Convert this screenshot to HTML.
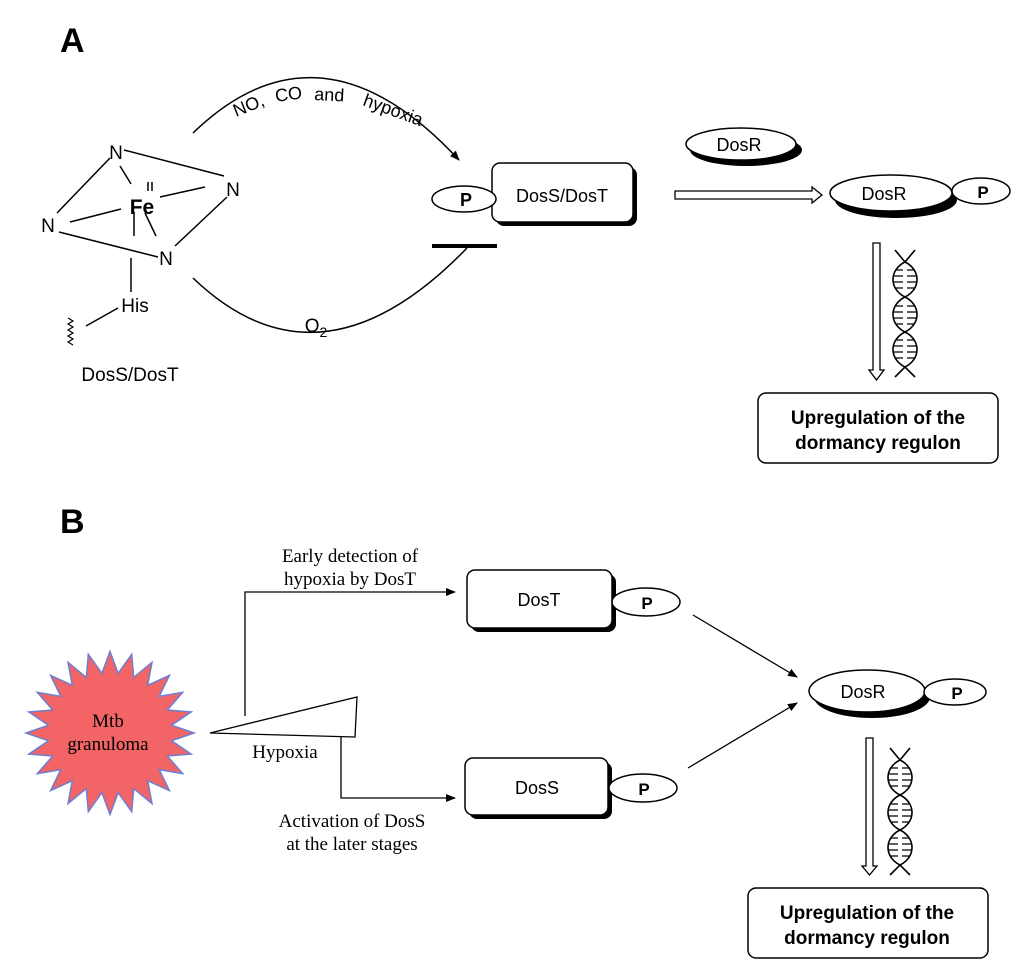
<!DOCTYPE html>
<html><head><meta charset="utf-8"><style>
html,body{margin:0;padding:0;background:#fff}
svg{display:block}
.s{font-family:"Liberation Sans",sans-serif}
.r{font-family:"Liberation Serif",serif}
</style></head><body>
<svg width="1024" height="978" viewBox="0 0 1024 978" xmlns="http://www.w3.org/2000/svg">
<defs>
<marker id="ah" markerWidth="10" markerHeight="8" refX="9" refY="4" orient="auto" markerUnits="userSpaceOnUse"><path d="M0,0 L10,4 L0,8 Z" fill="#000"/></marker>
<g id="dna" fill="none" stroke="#000" stroke-width="1.6">
<path d="M-10,0 L0,12 C-16,20 -16,39 0,47 C16,55 16,74 0,82 C-16,90 -16,109 0,117 L10,127"/>
<path d="M10,0 L0,12 C16,20 16,39 0,47 C-16,55 -16,74 0,82 C16,90 16,109 0,117 L-10,127"/>
<path d="M-9,20h7M2,20h7M-12,26h10M2,26h10M-12,32h10M2,32h10M-9,38h7M2,38h7M-9,56h7M2,56h7M-12,62h10M2,62h10M-12,68h10M2,68h10M-9,74h7M2,74h7M-9,90h7M2,90h7M-12,96h10M2,96h10M-12,102h10M2,102h10M-9,108h7M2,108h7" stroke-width="1.3"/>
</g>
</defs>

<!-- Panel A -->
<text x="60" y="52" class="s" font-size="34" font-weight="bold">A</text>
<g stroke="#000" stroke-width="1.5" fill="none">
<line x1="124" y1="150" x2="224" y2="176"/>
<line x1="110" y1="158" x2="57" y2="213"/>
<line x1="120" y1="166" x2="131" y2="184"/>
<line x1="160" y1="197" x2="205" y2="187"/>
<line x1="70" y1="222" x2="121" y2="209"/>
<line x1="227" y1="197" x2="175" y2="246"/>
<line x1="59" y1="232" x2="158" y2="257"/>
<line x1="134" y1="212" x2="134" y2="236"/>
<line x1="145" y1="213" x2="156" y2="236"/>
<line x1="131" y1="258" x2="131" y2="292"/>
<line x1="118" y1="308" x2="86" y2="326"/>
<path d="M68,318 l5,3 -5,3 5,3 -5,3 5,3 -5,3 5,3 -5,3 5,3" stroke-width="1.2"/>
<line x1="148" y1="182" x2="148" y2="191"/><line x1="152" y1="182" x2="152" y2="191"/>
<path d="M193,133 Q320,10 459,160" marker-end="url(#ah)"/>
<path d="M193,278 Q320,400 467,248"/>
</g>
<line x1="432" y1="246" x2="497" y2="246" stroke="#000" stroke-width="4"/>
<g class="s" font-size="19">
<text x="116" y="159" text-anchor="middle">N</text>
<text x="233" y="196" text-anchor="middle">N</text>
<text x="48" y="232" text-anchor="middle">N</text>
<text x="166" y="265" text-anchor="middle">N</text>
<text x="142" y="214" text-anchor="middle" font-weight="bold" font-size="21">Fe</text>
<text x="135" y="312" text-anchor="middle">His</text>
<text x="130" y="381" text-anchor="middle">DosS/DosT</text>
<text x="316" y="332" text-anchor="middle">O<tspan font-size="14" dy="5">2</tspan></text>
<text transform="translate(236,117) rotate(-22)" font-size="18">NO,</text>
<text transform="translate(276,102) rotate(-8)" font-size="18">CO</text>
<text transform="translate(314,100) rotate(3)" font-size="18">and</text>
<text transform="translate(362,105) rotate(20)" font-size="18">hypoxia</text>
</g>
<!-- P + DosS/DosT box -->
<rect x="496" y="167" width="141" height="59" rx="8" fill="#000"/>
<rect x="492" y="163" width="141" height="59" rx="8" fill="#fff" stroke="#000" stroke-width="1.5"/>
<text x="562" y="202" class="s" font-size="18" text-anchor="middle">DosS/DosT</text>
<ellipse cx="464" cy="199" rx="32" ry="13" fill="#fff" stroke="#000" stroke-width="1.5"/>
<text x="466" y="206" class="s" font-size="18" font-weight="bold" text-anchor="middle">P</text>
<!-- hollow arrow -->
<path d="M675,191 H812 V187 L822,195 L812,203 V199 H675 Z" fill="#fff" stroke="#000" stroke-width="1.3"/>
<!-- DosR top -->
<ellipse cx="746" cy="150" rx="56" ry="16" fill="#000"/>
<ellipse cx="741" cy="144" rx="55" ry="16" fill="#fff" stroke="#000" stroke-width="1.5"/>
<text x="739" y="151" class="s" font-size="18" text-anchor="middle">DosR</text>
<!-- DosR-P -->
<ellipse cx="896" cy="200" rx="61" ry="18" fill="#000"/>
<ellipse cx="891" cy="193" rx="61" ry="18" fill="#fff" stroke="#000" stroke-width="1.5"/>
<text x="884" y="200" class="s" font-size="18" text-anchor="middle">DosR</text>
<ellipse cx="981" cy="191" rx="29" ry="13" fill="#fff" stroke="#000" stroke-width="1.5"/>
<text x="983" y="198" class="s" font-size="17" font-weight="bold" text-anchor="middle">P</text>
<path d="M873,243 H880 V370 H884 L876.5,380 L869,370 H873 Z" fill="#fff" stroke="#000" stroke-width="1.3"/>
<use href="#dna" x="905" y="250"/>
<rect x="758" y="393" width="240" height="70" rx="8" fill="#fff" stroke="#000" stroke-width="1.5"/>
<text x="878" y="424" class="s" font-size="19" font-weight="bold" text-anchor="middle">Upregulation of the</text>
<text x="878" y="449" class="s" font-size="19" font-weight="bold" text-anchor="middle">dormancy regulon</text>

<!-- Panel B -->
<text x="60" y="533" class="s" font-size="34" font-weight="bold">B</text>
<polygon id="star" points="" fill="#f26465" stroke="#6d7fd0" stroke-width="1.5"/>
<script>
(function(){var p=[],cx=110,cy=733,n=24;for(var i=0;i<2*n;i++){var a=Math.PI*i/n-Math.PI/2;var r=i%2?62:84;p.push((cx+r*Math.cos(a)*1.0).toFixed(1)+","+(cy+r*Math.sin(a)*0.97).toFixed(1));}document.getElementById('star').setAttribute('points',p.join(' '));})();
</script>
<text x="108" y="727" class="r" font-size="19" text-anchor="middle">Mtb</text>
<text x="108" y="750" class="r" font-size="19" text-anchor="middle">granuloma</text>
<g stroke="#000" stroke-width="1.3" fill="none">
<polygon points="210,733 357,697 355,737"/>
<polyline points="245,716 245,592 455,592" marker-end="url(#ah)"/>
<polyline points="341,737 341,798 455,798" marker-end="url(#ah)"/>
<line x1="693" y1="615" x2="797" y2="677" marker-end="url(#ah)"/>
<line x1="688" y1="768" x2="797" y2="703" marker-end="url(#ah)"/>
</g>
<g class="r" font-size="19" text-anchor="middle">
<text x="350" y="562">Early detection of</text>
<text x="350" y="585">hypoxia by DosT</text>
<text x="285" y="758">Hypoxia</text>
<text x="352" y="827">Activation of DosS</text>
<text x="352" y="850">at the later stages</text>
</g>
<rect x="471" y="574" width="145" height="58" rx="8" fill="#000"/>
<rect x="467" y="570" width="145" height="58" rx="8" fill="#fff" stroke="#000" stroke-width="1.5"/>
<text x="539" y="606" class="s" font-size="18" text-anchor="middle">DosT</text>
<ellipse cx="646" cy="602" rx="34" ry="14" fill="#fff" stroke="#000" stroke-width="1.5"/>
<text x="647" y="609" class="s" font-size="17" font-weight="bold" text-anchor="middle">P</text>
<rect x="469" y="762" width="143" height="57" rx="8" fill="#000"/>
<rect x="465" y="758" width="143" height="57" rx="8" fill="#fff" stroke="#000" stroke-width="1.5"/>
<text x="537" y="794" class="s" font-size="18" text-anchor="middle">DosS</text>
<ellipse cx="643" cy="788" rx="34" ry="14" fill="#fff" stroke="#000" stroke-width="1.5"/>
<text x="644" y="795" class="s" font-size="17" font-weight="bold" text-anchor="middle">P</text>
<ellipse cx="872" cy="697" rx="58" ry="21" fill="#000"/>
<ellipse cx="867" cy="691" rx="58" ry="21" fill="#fff" stroke="#000" stroke-width="1.5"/>
<text x="863" y="698" class="s" font-size="18" text-anchor="middle">DosR</text>
<ellipse cx="955" cy="692" rx="31" ry="13" fill="#fff" stroke="#000" stroke-width="1.5"/>
<text x="957" y="699" class="s" font-size="17" font-weight="bold" text-anchor="middle">P</text>
<path d="M866,738 H873 V866 H877 L869.5,875 L862,866 H866 Z" fill="#fff" stroke="#000" stroke-width="1.3"/>
<use href="#dna" x="900" y="748"/>
<rect x="748" y="888" width="240" height="70" rx="8" fill="#fff" stroke="#000" stroke-width="1.5"/>
<text x="867" y="919" class="s" font-size="19" font-weight="bold" text-anchor="middle">Upregulation of the</text>
<text x="867" y="944" class="s" font-size="19" font-weight="bold" text-anchor="middle">dormancy regulon</text>
</svg>
</body></html>
